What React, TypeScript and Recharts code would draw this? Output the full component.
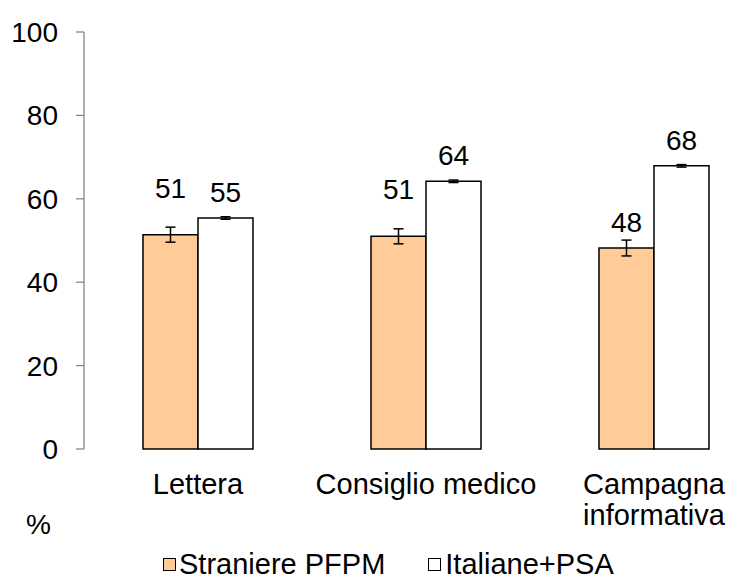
import { Bar, BarChart, ErrorBar, LabelList, XAxis, YAxis } from "recharts";

const categories = ["Lettera", "Consiglio medico", "Campagna\ninformativa"];
const straniere = [51.4, 51.0, 48.2];
const straniereErr = [1.8, 1.8, 1.9];
const italiane = [55.4, 64.2, 67.9];
const italianeErr = [0.3, 0.3, 0.3];
const yTicks = [0, 20, 40, 60, 80, 100];

// how far above the bar top each value label sits (px)
const straniereLift = [47, 47, 26];
const italianeLift = [26, 26, 26];

const data = categories.map((name, i) => ({
  name,
  straniere: straniere[i],
  straniereErr: straniereErr[i],
  italiane: italiane[i],
  italianeErr: italianeErr[i],
}));

const FONT = "'Liberation Sans', Arial, sans-serif";
const ORANGE = "#FFCC99";

function CategoryTick(props: any) {
  const { x, y, payload } = props;
  const lines = String(payload.value).split("\n");
  return (
    <text x={x} y={y + 37} textAnchor="middle" fontSize={29} fontFamily={FONT} fill="#000">
      {lines.map((l, i) => (
        <tspan key={i} x={x} dy={i === 0 ? 0 : 31}>
          {l}
        </tspan>
      ))}
    </text>
  );
}

const makeLabel = (lift: number[]) => (props: any) => {
  const { x, y, width, value, index } = props;
  return (
    <text
      x={x + width / 2}
      y={y - lift[index] + 10}
      textAnchor="middle"
      fontSize={28}
      fontFamily={FONT}
      fill="#000"
    >
      {Math.round(value)}
    </text>
  );
};

const box = (fill: string) => ({
  display: "inline-block",
  width: 11,
  height: 11,
  border: "1.5px solid #000",
  background: fill,
});

export default function App() {
  return (
    <div
      style={{
        position: "fixed",
        left: 0,
        top: 0,
        width: 729,
        height: 577,
        overflow: "hidden",
        background: "#fff",
        fontFamily: FONT,
      }}
    >
      <BarChart
        width={790}
        height={577}
        data={data}
        margin={{ top: 32, right: 22, left: 0, bottom: 0 }}
        barSize={55}
        barGap={0}
      >
        <YAxis
          width={84}
          domain={[0, 100]}
          ticks={yTicks}
          interval={0}
          axisLine={{ stroke: "#868686", strokeWidth: 1.3 }}
          tickLine={{ stroke: "#868686", strokeWidth: 1.3 }}
          tickSize={8}
          tickMargin={18}
          tick={{ fontSize: 28, fontFamily: FONT, fill: "#000" }}
        />
        <XAxis
          dataKey="name"
          height={128}
          axisLine={false}
          tickLine={false}
          interval={0}
          tick={<CategoryTick />}
        />
        <Bar dataKey="straniere" fill={ORANGE} stroke="#000" strokeWidth={1.5} isAnimationActive={false}>
          <ErrorBar dataKey="straniereErr" width={5} stroke="#000" strokeWidth={1.5} />
          <LabelList dataKey="straniere" content={makeLabel(straniereLift)} />
        </Bar>
        <Bar dataKey="italiane" fill="#fff" stroke="#000" strokeWidth={1.5} isAnimationActive={false}>
          <ErrorBar dataKey="italianeErr" width={5} stroke="#000" strokeWidth={1.5} />
          <LabelList dataKey="italiane" content={makeLabel(italianeLift)} />
        </Bar>
      </BarChart>
      <div style={{ position: "absolute", left: 26, top: 508, fontSize: 28, lineHeight: "34px" }}>%</div>
      <div
        style={{
          position: "absolute",
          top: 551,
          left: 163,
          display: "flex",
          alignItems: "center",
          fontSize: 29,
          lineHeight: "26px",
        }}
      >
        <span style={{ ...box(ORANGE), marginRight: 3 }} />
        <span>Straniere PFPM</span>
        <span style={{ ...box("#fff"), marginLeft: 43, marginRight: 4 }} />
        <span>Italiane+PSA</span>
      </div>
    </div>
  );
}
